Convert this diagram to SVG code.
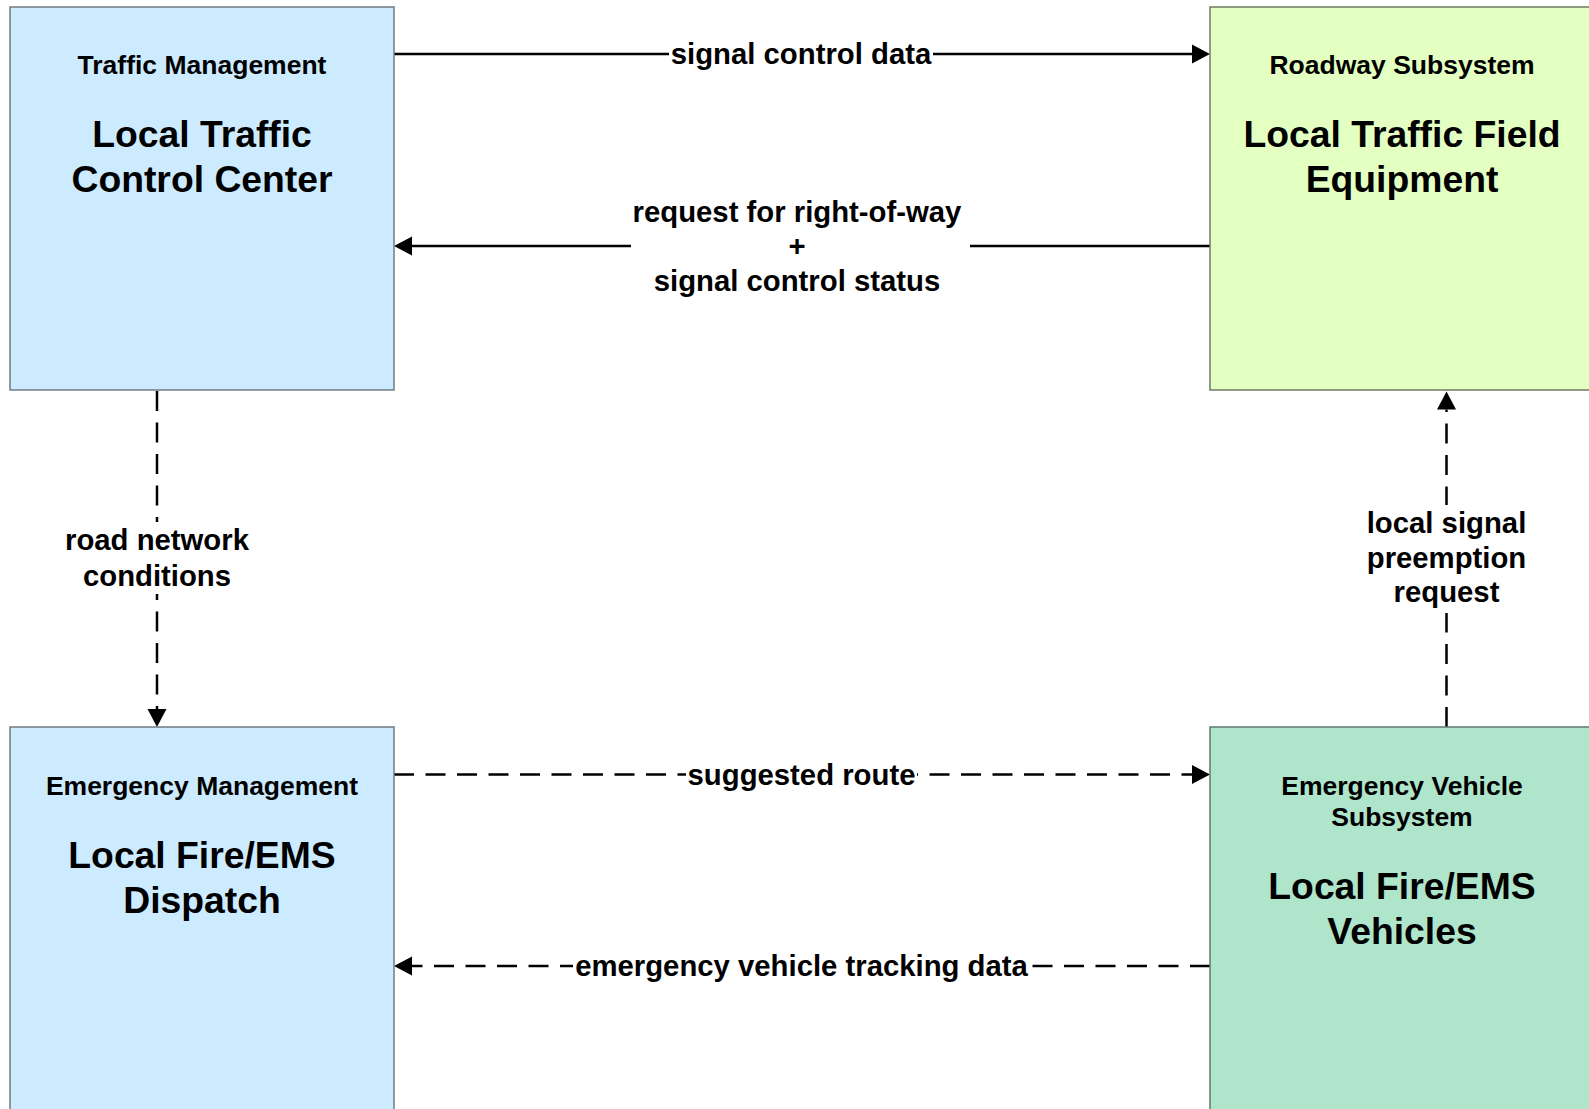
<svg xmlns="http://www.w3.org/2000/svg" width="1589" height="1109" viewBox="0 0 1589 1109">
<style>
text{font-family:"Liberation Sans",Arial,sans-serif;font-weight:bold;fill:#000;text-anchor:middle}
.t{font-size:26.5px}
.n{font-size:37.3px}
.l{font-size:29.3px}
.box{stroke-width:1.5}
.c{fill:none;stroke:#000;stroke-width:2.5}
.d{stroke-dasharray:20 11.5}
.bg{fill:#fff}
</style>
<defs>
<marker id="ah" markerUnits="userSpaceOnUse" markerWidth="18" markerHeight="19" refX="0" refY="9.5" orient="auto" overflow="visible">
<path d="M0,0 L18,9.5 L0,19 z" fill="#000"/>
</marker>
</defs>
<rect width="1589" height="1109" fill="#fff"/>
<g id="connectors">
<g id="c-signal-control-data">
<path class="c" d="M394,54 H1192" marker-end="url(#ah)"/>
<rect class="bg" x="669" y="40" width="264" height="30"/>
<text class="l" x="801" y="63.5">signal control data</text>
</g>
<g id="c-request-row">
<path class="c" d="M1210,246 H412" marker-end="url(#ah)"/>
<rect class="bg" x="631" y="196" width="339" height="102"/>
<text class="l" x="797" y="222">request for right-of-way</text>
<text class="l" x="797" y="256">+</text>
<text class="l" x="797" y="291">signal control status</text>
</g>
<g id="c-road-network">
<path class="c d" d="M157,391 V709" marker-end="url(#ah)"/>
<rect class="bg" x="60" y="522" width="194" height="72"/>
<text class="l" x="157" y="550">road network</text>
<text class="l" x="157" y="586">conditions</text>
</g>
<g id="c-preemption">
<path class="c d" d="M1446.5,727 V409.5" marker-end="url(#ah)"/>
<rect class="bg" x="1362" y="505" width="169" height="108"/>
<text class="l" x="1446.5" y="533">local signal</text>
<text class="l" x="1446.5" y="567.5">preemption</text>
<text class="l" x="1446.5" y="602">request</text>
</g>
<g id="c-suggested-route">
<path class="c d" d="M394,774.5 H1192" marker-end="url(#ah)"/>
<rect class="bg" x="686" y="760" width="231" height="30"/>
<text class="l" x="801.5" y="785">suggested route</text>
</g>
<g id="c-tracking">
<path class="c d" d="M1210,966 H412" marker-end="url(#ah)"/>
<rect class="bg" x="573" y="952" width="457" height="30"/>
<text class="l" x="801.5" y="976">emergency vehicle tracking data</text>
</g>
</g>
<g id="node-tmc">
<rect class="box" x="10" y="7" width="384" height="383" fill="#CCEBFF" stroke="#737b84"/>
<text class="t" x="202" y="74.3">Traffic Management</text>
<text class="n" x="202" y="147">Local Traffic</text>
<text class="n" x="202" y="192">Control Center</text>
</g>
<g id="node-roadway">
<rect class="box" x="1210" y="7" width="384" height="383" fill="#E3FFC1" stroke="#6f7a62"/>
<text class="t" x="1402" y="74.3">Roadway Subsystem</text>
<text class="n" x="1402" y="147">Local Traffic Field</text>
<text class="n" x="1402" y="192">Equipment</text>
</g>
<g id="node-em">
<rect class="box" x="10" y="727" width="384" height="384" fill="#CCEBFF" stroke="#737b84"/>
<text class="t" x="202" y="794.5">Emergency Management</text>
<text class="n" x="202" y="867.5">Local Fire/EMS</text>
<text class="n" x="202" y="912.5">Dispatch</text>
</g>
<g id="node-evs">
<rect class="box" x="1210" y="727" width="384" height="384" fill="#AEE5CB" stroke="#5f7b6c"/>
<text class="t" x="1402" y="794.5">Emergency Vehicle</text>
<text class="t" x="1402" y="826">Subsystem</text>
<text class="n" x="1402" y="899">Local Fire/EMS</text>
<text class="n" x="1402" y="944">Vehicles</text>
</g>
</svg>
